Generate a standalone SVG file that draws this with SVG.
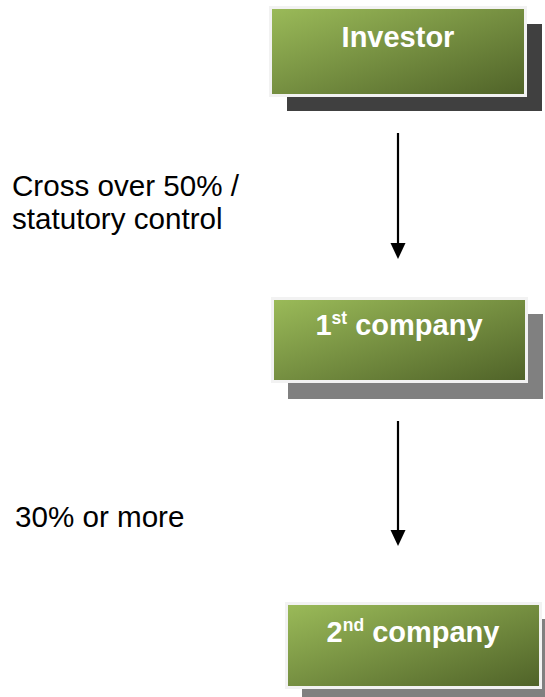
<svg xmlns="http://www.w3.org/2000/svg" width="545" height="697" viewBox="0 0 545 697">
<style>
.box{stroke:#F2F2F2;stroke-width:3;fill:url(#g)}
.lbl{font-family:"Liberation Sans",Arial,sans-serif;font-size:29.6px;fill:#000}
.nt{font-family:"Liberation Sans",Arial,sans-serif;font-size:29px;font-weight:bold;fill:#fff;text-anchor:middle}
.line{stroke:#000;stroke-width:2.2;fill:none}
</style>
<defs>
<linearGradient id="g" x1="0" y1="0" x2="1" y2="1">
<stop offset="0" stop-color="#9BBB59"/>
<stop offset="1" stop-color="#4F6228"/>
</linearGradient>
</defs>
<rect width="545" height="697" fill="#fff"/>
<g id="investor">
<rect x="287" y="24" width="255" height="87" fill="#404040"/>
<rect class="box" x="270.5" y="7.5" width="255" height="88"/>
<text class="nt" x="398" y="47">Investor</text>
</g>
<g id="company1">
<rect x="288" y="314" width="255" height="85" fill="#808080"/>
<rect class="box" x="272.5" y="298.5" width="254" height="83"/>
<text class="nt" x="399" y="335">1<tspan font-size="17.5" dy="-11">st</tspan><tspan dy="11"> company</tspan></text>
</g>
<g id="company2">
<rect x="302" y="619" width="243" height="78" fill="#808080"/>
<rect class="box" x="286.5" y="603.5" width="254" height="84"/>
<text class="nt" x="413" y="642">2<tspan font-size="17.5" dy="-11">nd</tspan><tspan dy="11"> company</tspan></text>
</g>
<g id="connectors">
<line class="line" x1="398" y1="133" x2="398" y2="245"/>
<polygon points="390.5,243 405.5,243 398,259" fill="#000"/>
<line class="line" x1="398" y1="421" x2="398" y2="532"/>
<polygon points="390.5,530 405.5,530 398,546" fill="#000"/>
</g>
<g id="labels">
<text class="lbl" x="12" y="196">Cross over 50% /</text>
<text class="lbl" x="12" y="229">statutory control</text>
<text class="lbl" x="15" y="527">30% or more</text>
</g>
</svg>
